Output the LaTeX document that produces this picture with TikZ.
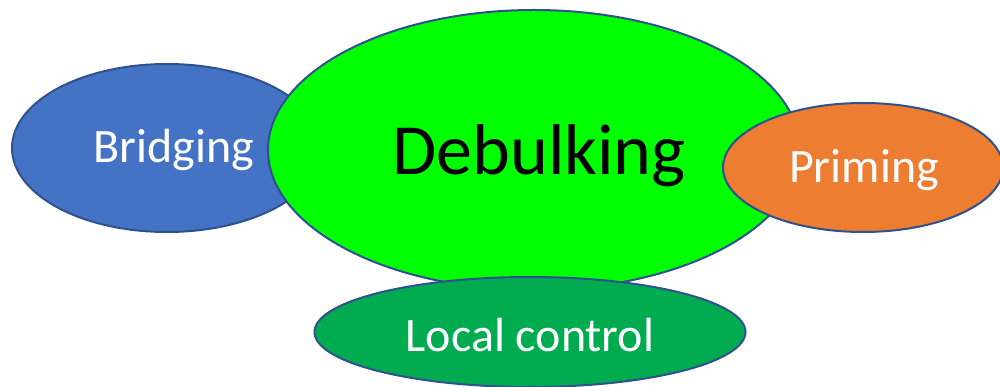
\documentclass[tikz,border=0pt]{standalone}
\usepackage{fontspec}
\setmainfont{Carlito}
\usetikzlibrary{shapes.geometric}
\definecolor{edgeblue}{HTML}{2F528F}
\definecolor{bridgeblue}{HTML}{4472C4}
\definecolor{bulkgreen}{HTML}{00FF00}
\definecolor{primeorange}{HTML}{ED7D31}
\definecolor{localgreen}{HTML}{00AC4F}
\tikzset{
  blob/.style={ellipse, draw=edgeblue, line width=2pt, inner sep=0pt},
  wlabel/.style={text=white, font=\fontsize{48}{56}\selectfont},
}
\begin{document}
\begin{tikzpicture}[x=1pt, y=-1pt]
  \useasboundingbox (0,0) rectangle (1000,387);
  % satellites behind the centre, then the centre, then the ones in front
  \node[blob, fill=bridgeblue, minimum width=310pt, minimum height=168pt] (bridging) at (167,148) {};
  \node[wlabel] (bridgingtxt) at (174,150) {Bridging};
  \node[blob, fill=bulkgreen, minimum width=532pt, minimum height=280pt] (debulking) at (534,150) {};
  \node[font=\fontsize{72}{84}\selectfont] (debulkingtxt) at (539,156) {Debulking};
  \node[blob, fill=primeorange, minimum width=280pt, minimum height=129pt] (priming) at (863,167.5) {};
  \node[wlabel] (primingtxt) at (864,170) {Priming};
  \node[blob, fill=localgreen, minimum width=431pt, minimum height=110pt] (local) at (530,332) {};
  \node[wlabel] (localtxt) at (530,335) {Local control};
\end{tikzpicture}
\end{document}
